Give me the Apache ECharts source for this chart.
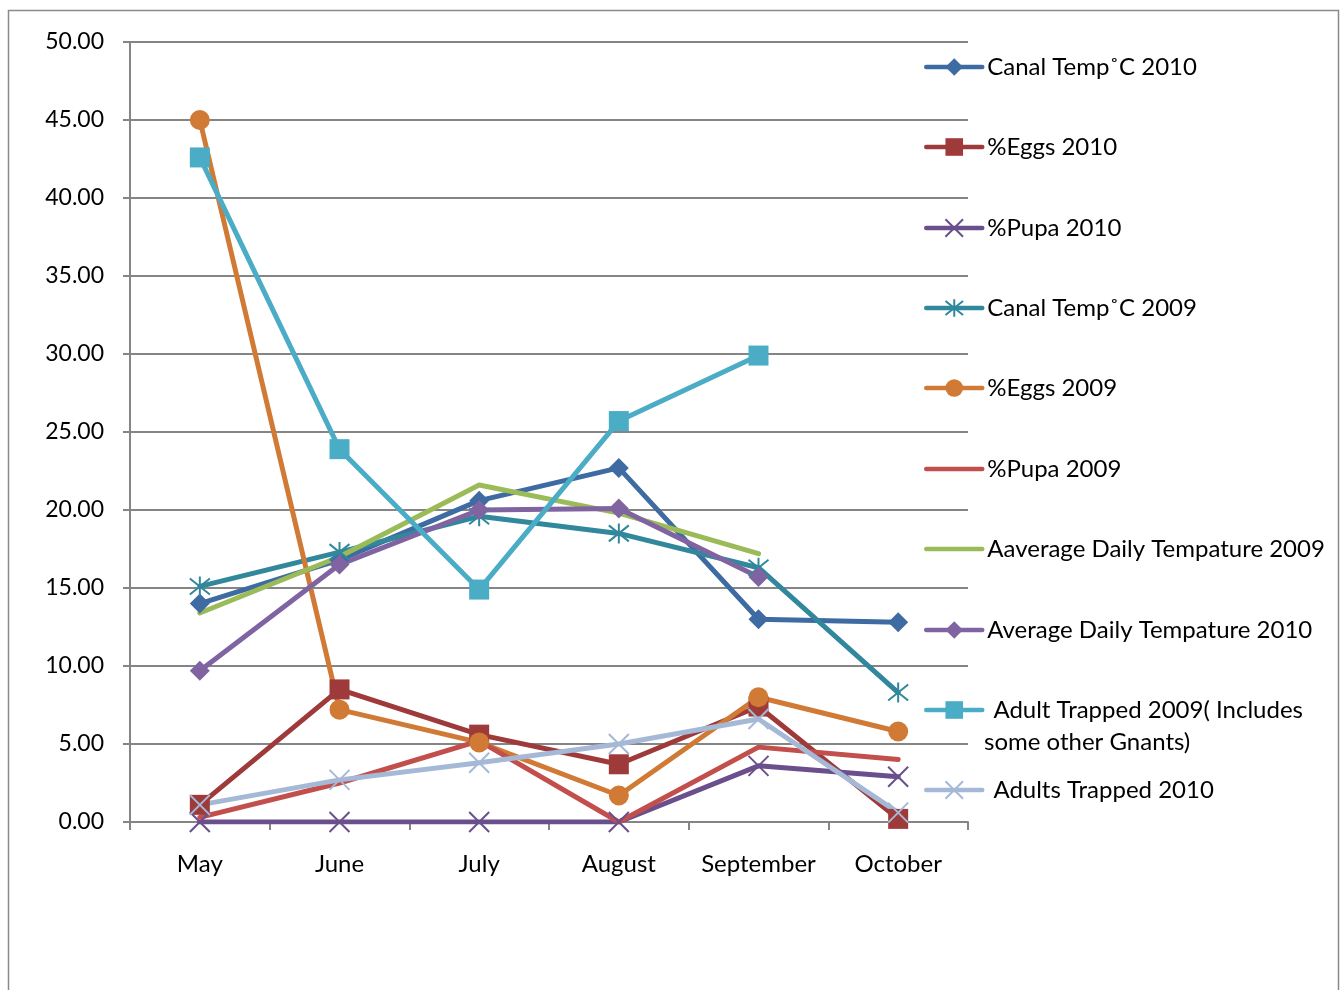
<!DOCTYPE html>
<html>
<head>
<meta charset="utf-8">
<script src="https://cdn.jsdelivr.net/npm/echarts@6/dist/echarts.min.js"></script>
<style>
  html, body { margin: 0; padding: 0; background: #fff; }
  #chart { width: 1344px; height: 990px; }
</style>
</head>
<body>
<div id="chart"></div>
<script>
// Months on the category axis
const months = ['May', 'June', 'July', 'August', 'September', 'October'];

// Series values, one array per series (null = no reading)
const canalTemp2010   = [14.0, 16.8, 20.6, 22.7, 13.0, 12.8];
const eggs2010        = [1.1, 8.5, 5.6, 3.7, 7.4, 0.2];
const pupa2010        = [0, 0, 0, 0, 3.6, 2.9];
const canalTemp2009   = [15.1, 17.3, 19.6, 18.5, 16.3, 8.3];
const eggs2009        = [45.0, 7.2, 5.1, 1.7, 8.0, 5.8];
const pupa2009        = [0.3, 2.5, 5.2, 0.0, 4.8, 4.0];
const avgTemp2009     = [13.4, 17.0, 21.6, 19.8, 17.2, null];
const avgTemp2010     = [9.7, 16.5, 20.0, 20.1, 15.7, null];
const adultTrapped2009 = [42.6, 23.9, 14.9, 25.7, 29.9, null];
const adultsTrapped2010 = [1.1, 2.7, 3.8, 5.0, 6.6, 0.6];

// Value-axis ticks
const yTicks = [0, 5, 10, 15, 20, 25, 30, 35, 40, 45, 50];

// Stroked marker shapes
const xMark = 'path://M1,1L9,9M9,1L1,9';
const starMark = 'path://M1,1L9,9M9,1L1,9M5,0L5,10';

const FONT = 'Lato';
const gridColor = '#858585';

function lineSeries(name, data, color, symbol, stroked) {
  return {
    name: name,
    type: 'line',
    data: data,
    symbol: symbol || 'none',
    symbolSize: 20,
    showSymbol: !!symbol,
    connectNulls: false,
    lineStyle: { color: color, width: 5, cap: 'round', join: 'round' },
    itemStyle: stroked
      ? { color: 'rgba(0,0,0,0)', borderColor: color, borderWidth: 2 }
      : { color: color },
    emphasis: { disabled: true },
    animation: false
  };
}

const series = [
  lineSeries('Canal Temp˚C 2010', canalTemp2010, '#3D6BA2', 'diamond'),
  lineSeries('%Eggs 2010', eggs2010, '#9E3B3A', 'rect'),
  lineSeries('%Pupa 2010', pupa2010, '#6A4F8C', xMark, true),
  lineSeries('Canal Temp˚C 2009', canalTemp2009, '#31889C', starMark, true),
  lineSeries('%Eggs 2009', eggs2009, '#D07A35', 'circle'),
  lineSeries('%Pupa 2009', pupa2009, '#C24F4C', null),
  lineSeries('Aaverage Daily Tempature 2009', avgTemp2009, '#9BBB59', null),
  lineSeries('Average Daily Tempature 2010', avgTemp2010, '#8064A2', 'diamond'),
  lineSeries(' Adult Trapped 2009( Includes some other Gnants)', adultTrapped2009, '#4BACC6', 'rect'),
  lineSeries(' Adults Trapped 2010', adultsTrapped2010, '#A5B9D7', xMark, true)
];

// One legend block per series so each entry sits on its own row
const legendRows = [67, 147, 228, 308, 388, 469, 549, 630, 710, 790];
const legends = series.map(function (s, i) {
  const item = { name: s.name };
  if (s.symbol === 'none') item.itemStyle = { opacity: 0 };
  return {
    data: [item],
    orient: 'horizontal',
    left: 924,
    top: legendRows[i] - 12,
    padding: 0,
    itemWidth: 56,
    itemHeight: 22,
    itemGap: 0,
    selectedMode: false,
    lineStyle: { width: 4.5 },
    formatter: function (n) {
      return n.indexOf('Includes') >= 0 ? ' Adult Trapped 2009( Includes' : n;
    },
    textStyle: { fontFamily: FONT, fontSize: 24, color: '#000', lineHeight: 24 }
  };
});

const chart = echarts.init(document.getElementById('chart'), null, { renderer: 'canvas' });
chart.setOption({
  backgroundColor: '#fff',
  animation: false,
  grid: { left: 130, top: 42, right: 376, bottom: 168 },
  legend: legends,
  xAxis: {
    type: 'category',
    data: months,
    boundaryGap: true,
    axisLine: { lineStyle: { color: gridColor, width: 2 } },
    axisTick: { show: true, interval: 0, length: 8, lineStyle: { color: gridColor, width: 2 } },
    axisLabel: { fontFamily: FONT, fontSize: 24, color: '#000', margin: 30, interval: 0 }
  },
  yAxis: {
    type: 'value',
    min: yTicks[0],
    max: yTicks[yTicks.length - 1],
    interval: yTicks[1] - yTicks[0],
    axisLine: { show: true, lineStyle: { color: gridColor, width: 2 } },
    axisTick: { show: true, length: 7, lineStyle: { color: gridColor, width: 2 } },
    splitLine: { lineStyle: { color: gridColor, width: 2 } },
    axisLabel: {
      fontFamily: FONT, fontSize: 23, color: '#000', margin: 26,
      formatter: function (v) { return v.toFixed(2); }
    }
  },
  graphic: [
    {
      type: 'rect',
      shape: { x: 8.5, y: 10.5, width: 1330, height: 1000 },
      style: { fill: 'none', stroke: '#8a8a8a', lineWidth: 1.5 },
      silent: true
    },
    {
      type: 'text',
      left: 984,
      top: 742 - 12,
      style: { text: 'some other Gnants)', fontFamily: FONT, fontSize: 24, fill: '#000', lineHeight: 24 },
      silent: true
    }
  ],
  series: series
});
</script>
</body>
</html>
